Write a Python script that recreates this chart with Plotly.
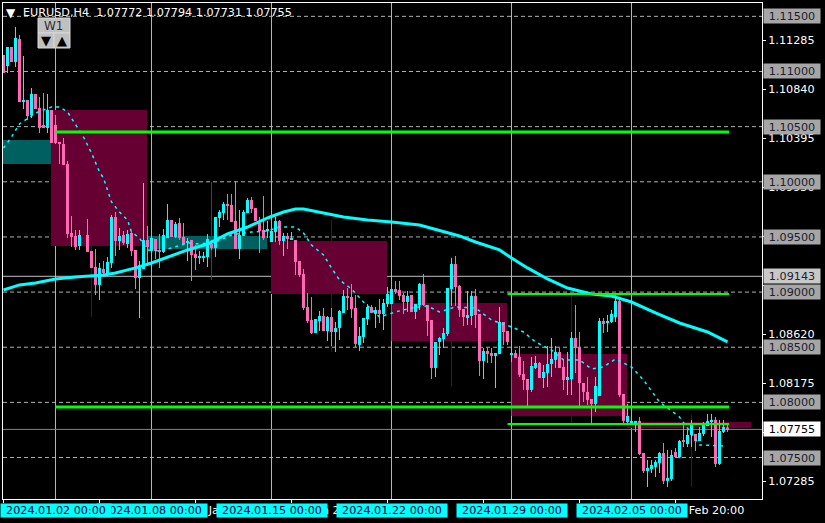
import plotly.graph_objects as go

POINT = 1e-5
bar_index = list(range(182))
opens = [
111149,111050,111222,111086,111294,110732,110742,110606,110796,110669,110515,110488,
110651,110515,110352,110343,110161,109536,109509,109418,None,109518,109373,109228,
109065,109209,109173,109264,109681,109463,109518,109436,109536,109382,109128,109209,
109472,109373,109481,109382,109364,109490,109654,109500,109627,109500,109445,109472,
109345,109309,109318,109318,109436,109400,109672,109717,109799,109790,109645,109391,
109509,109717,109835,109762,109627,109563,109554,109454,109545,109645,109463,109509,
109481,109472,109282,109164,108865,108747,108629,108738,108783,108647,108774,108638,
108675,108811,108965,108956,108856,108521,108593,108756,108865,108802,108838,108802,
108892,108892,109028,109019,108974,108910,108974,108820,108883,109074,108883,108747,
108312,108548,108575,108620,109028,109255,109055,108847,108774,108783,108965,108802,
108375,108466,108448,108421,108439,108729,108647,108430,108448,108412,108258,108212,
108113,108312,108357,108221,108267,108348,108385,108457,108321,108203,108212,108584,
108502,108176,108095,108031,107986,108058,108738,108720,108729,108774,108919,108076,
107822,107813,107795,107832,107541,107378,107396,107415,107451,107541,107288,107306,
107550,107505,107650,107623,107705,107714,107650,107714,107786,107822,107841,107442,
107732,107772]
highs = [
111149,111222,111222,111403,111331,111140,110742,110850,110796,110769,110805,110796,
110651,110606,110352,110397,110189,109690,109563,109563,None,109663,109373,109391,
109264,109282,109318,109699,109726,109581,109554,109563,109545,109382,109282,109989,
109599,109536,109481,109527,109572,109799,109654,109636,109672,109627,109490,109472,
109427,109373,109364,109527,109472,109681,109744,109817,109889,109889,110007,109744,
109744,109853,109862,109762,109681,109871,109645,109563,109681,109654,109536,109536,
109545,109472,109282,109209,108992,108956,108756,108829,108856,108783,108856,108729,
108838,109019,109037,109074,108974,108684,108765,108892,108883,108865,108937,108937,
109046,109083,109101,109101,108992,109010,108974,108892,109083,109164,108883,108747,
108548,108593,108675,109037,109309,109327,109065,108847,109010,109010,109028,108802,
108493,108493,108493,108448,108865,108729,108647,108466,108475,108512,108375,108212,
108412,108421,108366,108339,108512,108584,108512,108493,108385,108457,108638,108883,
108638,108176,108230,108031,108230,108765,108765,108792,108838,108974,108928,108076,
107986,107841,107832,107868,107541,107478,107478,107478,107550,107632,107569,107569,
107587,107659,107822,107750,107841,107714,107777,107822,107895,107895,107868,107841,
107841,107794]
lows = [
110986,110986,111086,111041,110723,110660,110560,110578,110660,110442,110488,110442,
110352,110343,110161,110152,109490,109409,109382,109382,None,109364,109219,108974,
108928,109146,109146,109219,109327,109382,109427,109400,109327,109028,108765,109209,
109237,109364,109300,109219,109355,109490,109500,109490,109472,109427,109282,109101,
109200,109255,109273,109228,109382,109318,109590,109654,109654,109636,109391,109300,
109509,109717,109717,109645,109355,109472,109490,109454,109454,109427,109327,109391,
109472,109155,109137,108838,108720,108620,108629,108647,108647,108557,108512,108457,
108566,108811,108838,108765,108502,108466,108539,108702,108811,108675,108720,108657,
108865,108892,108983,108928,108802,108820,108820,108756,108838,108874,108602,108212,
108230,108430,108493,108602,108874,108874,108774,108693,108702,108702,108675,108239,
108212,108357,108357,108131,108439,108521,108521,108366,108403,108230,108113,107968,
108095,108303,108221,108131,108140,108230,108312,108312,108113,108067,108067,108267,
107968,108004,107977,107813,107913,108058,108629,108638,108720,108729,108049,107813,
107813,107804,107732,107523,107360,107233,107360,107324,107360,107261,107233,107288,
107496,107496,107596,107596,107596,107560,107650,107696,107786,107687,107415,107433,
107723,107731]
closes = [
110986,111222,111086,111304,110723,110742,110596,110796,110660,110488,110488,110651,
110352,110352,110343,110152,109527,109500,109409,109518,None,109364,109219,109065,
109219,109173,109273,109681,109463,109509,109445,109527,109373,109128,109246,109472,
109409,109490,109373,109364,109518,109654,109500,109618,109490,109436,109463,109336,
109309,109327,109327,109481,109400,109681,109726,109799,109781,109636,109391,109518,
109726,109835,109753,109645,109554,109490,109563,109554,109645,109463,109509,109481,
109490,109273,109155,108856,108738,108629,108756,108783,108647,108774,108638,108675,
108829,108965,108947,108847,108530,108602,108765,108865,108811,108838,108802,108901,
108983,109028,109001,108965,108910,108965,108820,108892,109074,108883,108738,108312,
108548,108584,108629,109037,109255,109046,108838,108774,108792,108965,108792,108375,
108466,108439,108421,108448,108729,108638,108548,108448,108403,108249,108203,108113,
108330,108357,108221,108276,108348,108394,108457,108312,108203,108230,108584,108493,
108176,108095,108022,107986,108149,108738,108711,108729,108802,108919,108067,107832,
107877,107832,107832,107532,107378,107406,107433,107460,107541,107288,107315,107523,
107505,107650,107641,107705,107795,107650,107723,107795,107832,107841,107442,107741,
107777,107755]

ma_slow_index = [0,4,8,13,18,25,28,33,37,41,46,51,56,61,66,70,73,75,80,85,91,97,104,108,114,118,124,127,131,136,141,147,152,157,163,169,176,181]
ma_slow = [109019,109065,109083,109119,109137,109155,109173,109219,109264,109318,109382,109436,109527,109590,109672,109726,109753,109753,109717,109681,109654,109636,109608,109567,109509,109454,109382,109309,109219,109119,109037,108983,108965,108910,108811,108720,108638,108548]
ma_fast_index = [0,2,4,6,8,12,14,16,18,20,22,24,25,26,27,29,31,32,34,36,39,42,46,49,53,57,62,66,69,73,75,77,80,82,84,87,90,94,98,102,106,109,113,118,122,127,130,133,137,140,144,147,150,153,157,160,164,169,174,180]
ma_fast = [110306,110406,110524,110578,110624,110678,110678,110633,110515,110406,110261,110089,110034,109926,109817,109726,109654,109545,109490,109382,109373,109400,109445,109436,109454,109518,109545,109554,109590,109590,109536,109427,109336,109219,109110,109028,108910,108774,108820,108856,108874,108820,108865,108856,108747,108684,108638,108548,108475,108385,108385,108303,108321,108394,108321,108203,108004,107868,107614,107605]

week_start = [-0.125,11.875,35.875,66.875,97.0,127.0,155.875]
week_end = [11.875,35.875,65.875,95.875,125.875,155.875,186.875]
week_open = [110161,110651,109391,109463,108901,108439,107822]
week_close = [110379,109418,109509,108983,108557,107877,107768]
week_mid = [None,22,52,82,112,142,172]
week_high = [None,110651,109998,109654,109318,108974,107886]
week_low = [None,108774,109110,108457,108140,107813,107233]

round_levels = [1.115,1.11,1.105,1.10,1.095,1.09,1.085,1.08,1.075]
round_labels = ["1.11500","1.11000","1.10500","1.10000","1.09500","1.09000","1.08500","1.08000","1.07500"]
scale_ticks = [1.11285,1.1084,1.10395,1.0995,1.09505,1.0906,1.0862,1.08175,1.0773,1.07285]
scale_labels = ["1.11285","1.10840","1.10395","1.09950","","","1.08620","1.08175","1.07730","1.07285"]
crosshair_price = 1.09143
last_price = 1.07755

level_price = [1.10451,1.08983,1.07958,1.07804]
level_start = [12.9,126.0,12.9,126.0]
level_end = [181.4,181.4,181.4,181.4]
level_width = [3,2,3,2]

separator_index = [13,37,67,97,127,157]
separator_labels = ["2024.01.02 00:00","2024.01.08 00:00","2024.01.15 00:00","2024.01.22 00:00","2024.01.29 00:00","2024.02.05 00:00"]
time_tick_index = [0,24,48,72,96,120,144,168]
visible_tick_index = [48,72,168]
visible_tick_labels = ["9 Jan 20:00","15 Jan 20:00","6 Feb 20:00"]

title_text = "EURUSD,H4\u00a0\u00a01.07772 1.07794 1.07731 1.07755"

PINK, CYAN = "#FF69B4", "#00FFFF"
W, H = 825, 523
L, R, T, B = 3, 762, 3, 499
FONT = "DejaVu Sans"
FS = 11.2
def px(x): return (x - L) / (R - L)
def py(y): return 1 - (y - T) / (B - T)

valid = [i for i in bar_index if opens[i] is not None]
colors = [CYAN if closes[i] >= opens[i] else PINK for i in valid]
shapes, ann = [], []

for i in range(len(week_start)):
    up = week_close[i] > week_open[i]
    c = "#005F5F" if up else "#660033"
    shapes.append(dict(type="rect", xref="x", yref="y", layer="below", x0=week_start[i], x1=week_end[i],
                       y0=week_open[i]*POINT, y1=week_close[i]*POINT, fillcolor=c, line_width=0))
    if week_mid[i] is not None:
        shapes.append(dict(type="line", xref="x", yref="y", layer="below", x0=week_mid[i], x1=week_mid[i],
                           y0=week_low[i]*POINT, y1=week_high[i]*POINT, line=dict(color=c, width=1)))
for lv in round_levels:
    shapes.append(dict(type="line", xref="paper", yref="y", layer="below", x0=0, x1=1, y0=lv, y1=lv,
                       line=dict(color="#B0B0B0", width=1, dash="4px,3px")))
for s in separator_index:
    shapes.append(dict(type="line", xref="x", yref="paper", layer="below", x0=s, x1=s, y0=0, y1=1,
                       line=dict(color="#55DDDD", width=1)))
shapes.append(dict(type="line", xref="paper", yref="y", layer="below", x0=0, x1=1, y0=crosshair_price, y1=crosshair_price,
                   line=dict(color="#C0C0C0", width=1)))
shapes.append(dict(type="line", xref="paper", yref="y", layer="below", x0=0, x1=1, y0=last_price, y1=last_price,
                   line=dict(color="#778899", width=1)))

fig = go.Figure()
fig.add_bar(x=valid, base=[lows[i]*POINT for i in valid], y=[(highs[i]-lows[i])*POINT for i in valid],
            width=0.25, marker=dict(color=colors, line_width=0), hoverinfo="skip")
fig.add_bar(x=valid, base=[min(opens[i],closes[i])*POINT for i in valid],
            y=[abs(opens[i]-closes[i])*POINT for i in valid],
            width=0.75, marker=dict(color=colors, line_width=0), hoverinfo="skip")
fig.add_scatter(x=ma_fast_index, y=[v*POINT for v in ma_fast], mode="lines", hoverinfo="skip",
                line=dict(color=CYAN, width=1.5, dash="3px,4px"))
fig.add_scatter(x=ma_slow_index, y=[v*POINT for v in ma_slow], mode="lines", hoverinfo="skip",
                line=dict(color=CYAN, width=3))
for p, a, b, w in zip(level_price, level_start, level_end, level_width):
    fig.add_scatter(x=[a, b], y=[p, p], mode="lines", hoverinfo="skip", line=dict(color="#00FF00", width=w))

for t, s in zip(visible_tick_index, visible_tick_labels):
    ann.append(dict(xref="x", yref="paper", x=t, y=py(510), text=s, xanchor="left", yanchor="middle",
                    showarrow=False, font=dict(family=FONT, size=FS, color="white")))
for k in [5,4,3,2,1,0]:
    ann.append(dict(xref="x", yref="paper", x=separator_index[k], y=py(510), text=separator_labels[k],
                    xanchor="center", yanchor="middle", showarrow=False, width=110, height=13, borderpad=0,
                    bgcolor=CYAN, font=dict(family=FONT, size=FS, color="#000033")))

for v, s in zip(round_levels, round_labels):
    ann.append(dict(xref="paper", yref="y", x=px(763), y=v, text=s, xanchor="left", yanchor="middle",
                    showarrow=False, width=56, height=14, borderpad=0, bgcolor="#A6A6A6",
                    font=dict(family=FONT, size=FS, color="#202030")))
ann.append(dict(xref="paper", yref="y", x=px(763), y=crosshair_price, text="1.09143", xanchor="left", yanchor="middle",
                showarrow=False, width=56, height=14, borderpad=0, bgcolor="#C8C8C8",
                font=dict(family=FONT, size=FS, color="#202030")))
ann.append(dict(xref="paper", yref="y", x=px(763), y=last_price, text="1.07755", xanchor="left", yanchor="middle",
                showarrow=False, width=56, height=14, borderpad=0, bgcolor="white",
                font=dict(family=FONT, size=FS, color="black")))

ann.append(dict(xref="paper", yref="paper", x=px(21), y=py(13), text=title_text, xanchor="left", yanchor="middle",
                showarrow=False, font=dict(family=FONT, size=FS, color="white")))
ann.append(dict(xref="paper", yref="paper", x=px(10.5), y=py(12.5), text="▼", xanchor="center", yanchor="middle",
                showarrow=False, font=dict(family=FONT, size=12, color="white")))
for x0, x1, y0, y1 in [(38,70,18,33),(38,54,33,48),(54,70,33,48)]:
    shapes.append(dict(type="rect", xref="paper", yref="paper", layer="above", x0=px(x0), x1=px(x1), y0=py(y0), y1=py(y1),
                       fillcolor="#C0C0C0", line=dict(color="#D8D8D8", width=1)))
ann.append(dict(xref="paper", yref="paper", x=px(54), y=py(25.5), text="W1", xanchor="center", yanchor="middle",
                showarrow=False, font=dict(family=FONT, size=12, color="#303030")))
ann.append(dict(xref="paper", yref="paper", x=px(46), y=py(40.5), text="▼", xanchor="center", yanchor="middle",
                showarrow=False, font=dict(family=FONT, size=13, color="black")))
ann.append(dict(xref="paper", yref="paper", x=px(62), y=py(40.5), text="▲", xanchor="center", yanchor="middle",
                showarrow=False, font=dict(family=FONT, size=13, color="black")))

fig.update_layout(
    width=W, height=H, margin=dict(l=L, r=W-R, t=T, b=H-B), autosize=False,
    paper_bgcolor="black", plot_bgcolor="black", showlegend=False, barmode="overlay",
    shapes=shapes, annotations=ann,
    xaxis=dict(range=[-0.125, 189.625], showgrid=False, zeroline=False, showline=True, mirror=True,
               linecolor="white", linewidth=1, tickmode="array", tickvals=time_tick_index,
               ticktext=[""]*len(time_tick_index), ticks="outside", ticklen=3, tickcolor="white", tickwidth=1),
    yaxis=dict(range=[1.07124, 1.11621], side="right", showgrid=False, zeroline=False, showline=True, mirror=True,
               linecolor="white", linewidth=1, tickmode="array", tickvals=scale_ticks, ticktext=scale_labels,
               ticks="outside", ticklen=3, tickcolor="white", tickwidth=1,
               tickfont=dict(family=FONT, size=FS, color="white")),
)
fig.write_html("out.html", config=dict(displayModeBar=False), post_script="document.body.style.margin='0';")
